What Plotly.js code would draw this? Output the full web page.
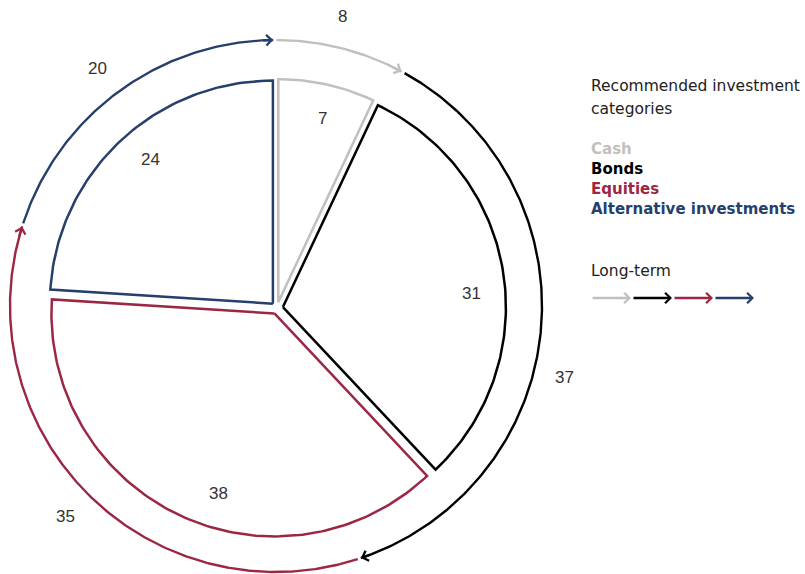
<!DOCTYPE html>
<html><head><meta charset="utf-8">
<script src="https://cdn.plot.ly/plotly-3.0.1.min.js"></script>
<style>html,body{margin:0;padding:0;background:#fff}</style>
</head><body><div id="chart" style="width:805px;height:574px"></div>
<script>
// ---- data ----
const categories = ['Cash', 'Bonds', 'Equities', 'Alternative investments'];
const recommended = [7, 31, 38, 24];   // inner (exploded) pie
const longTerm = [8, 37, 35, 20];      // outer ring arcs
const legendTitleLines = ['Recommended investment', 'categories'];
const ringTitle = 'Long-term';

// ---- styles / geometry ----
const colors = ['#c2c0bd', '#000000', '#9c2744', '#263f6c'];
const FONT = 'Liberation Sans, Arial, sans-serif';
const LFONT = 'DejaVu Sans, sans-serif';
const CX = 276, CY = 306;            // pixel position of ring centre
const PIE_DX = 1, PIE_DY = -2;       // pie centre offset from ring centre
const R_PIE = 223, PULL = 6, R_RING = 266;
const R_IN_LABEL = 189, R_OUT_LABEL = 297;
const IN_NUDGE = [1, 5, -8, 3];      // degrees, label placement tweaks
const OUT_NUDGE = [-1.5, 8.5, 0, -1];

function pt(r, a) { const t = a * Math.PI / 180; return [r * Math.sin(t), r * Math.cos(t)]; }
function spans(vals) {
  const tot = vals.reduce((s, v) => s + v, 0); let c = 0;
  return vals.map(v => { const a0 = c / tot * 360; c += v; return [a0, c / tot * 360]; });
}
const px = x => x - CX, py = y => CY - y;

const traces = [], annotations = [];

// inner exploded pie slices
spans(recommended).forEach(([a0, a1], i) => {
  const mid = (a0 + a1) / 2;
  let [ox, oy] = pt(PULL, mid);
  ox += PIE_DX; oy += PIE_DY;
  const xs = [ox], ys = [oy];
  const n = Math.max(2, Math.ceil(a1 - a0));
  for (let k = 0; k <= n; k++) {
    const [x, y] = pt(R_PIE, a0 + (a1 - a0) * k / n);
    xs.push(ox + x); ys.push(oy + y);
  }
  xs.push(ox); ys.push(oy);
  traces.push({ type: 'scatter', mode: 'lines', x: xs, y: ys, fill: 'toself', fillcolor: '#ffffff',
    line: { color: colors[i], width: 2.5 }, hoverinfo: 'skip', showlegend: false });
  const [lx, ly] = pt(R_IN_LABEL, mid + IN_NUDGE[i]);
  annotations.push({ x: ox + lx, y: oy + ly, xref: 'x', yref: 'y', text: String(recommended[i]),
    showarrow: false, font: { family: FONT, size: 17, color: '#333333' } });
});

// outer ring arcs with arrowheads
spans(longTerm).forEach(([a0, a1], i) => {
  const end = a1 - 0.6;
  const xs = [], ys = [];
  const n = Math.max(2, Math.ceil((end - a0) * 2));
  for (let k = 0; k <= n; k++) {
    const [x, y] = pt(R_RING, a0 + 0.1 + (end - a0 - 0.1) * k / n);
    xs.push(x); ys.push(y);
  }
  traces.push({ type: 'scatter', mode: 'lines', x: xs, y: ys,
    line: { color: colors[i], width: 2.4 }, hoverinfo: 'skip', showlegend: false });
  const [tx, ty] = pt(R_RING, end), [sx, sy] = pt(R_RING, end - 2.5);
  annotations.push({ x: tx, y: ty, ax: sx, ay: sy, xref: 'x', yref: 'y', axref: 'x', ayref: 'y',
    text: '', showarrow: true, arrowhead: 4, arrowsize: 0.85, arrowwidth: 2.4, arrowcolor: colors[i] });
  const [lx, ly] = pt(R_OUT_LABEL, (a0 + a1) / 2 + OUT_NUDGE[i]);
  annotations.push({ x: lx, y: ly, xref: 'x', yref: 'y', text: String(longTerm[i]),
    showarrow: false, font: { family: FONT, size: 17, color: '#333333' } });
});

// legend text
const LX = px(589);
legendTitleLines.forEach((t, i) => annotations.push({ x: LX, y: py(86 + 23 * i), xref: 'x', yref: 'y',
  xanchor: 'left', yanchor: 'middle', text: t, showarrow: false, font: { family: LFONT, size: 15.5, color: '#222222' } }));
categories.forEach((c, i) => annotations.push({ x: LX, y: py(149 + 20 * i), xref: 'x', yref: 'y',
  xanchor: 'left', yanchor: 'middle', text: '<b>' + c + '</b>', showarrow: false,
  font: { family: LFONT, size: 15, color: colors[i] } }));
annotations.push({ x: LX, y: py(271), xref: 'x', yref: 'y', xanchor: 'left', yanchor: 'middle',
  text: ringTitle, showarrow: false, font: { family: LFONT, size: 15.5, color: '#222222' } });
// legend arrow sequence
categories.forEach((c, i) => {
  const x0 = 591 + 41 * i, x1 = x0 + 40;
  annotations.push({ x: px(x1), y: py(298), ax: px(x0), ay: py(298), xref: 'x', yref: 'y', axref: 'x', ayref: 'y',
    text: '', showarrow: true, arrowhead: 4, arrowsize: 0.85, arrowwidth: 2.4, arrowcolor: colors[i] });
});

const layout = {
  width: 805, height: 574, margin: { l: 0, r: 0, t: 0, b: 0 },
  paper_bgcolor: '#ffffff', plot_bgcolor: '#ffffff', showlegend: false,
  xaxis: { range: [-CX, 805 - CX], visible: false, fixedrange: true },
  yaxis: { range: [CY - 574, CY], visible: false, fixedrange: true },
  annotations: annotations
};
Plotly.newPlot('chart', traces, layout, { displayModeBar: false, staticPlot: true });
</script></body></html>
